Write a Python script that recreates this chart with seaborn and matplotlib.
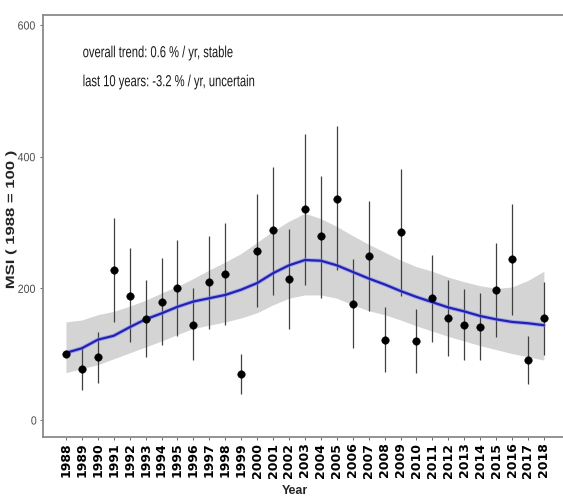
import matplotlib
matplotlib.use("Agg")
import matplotlib.pyplot as plt
from matplotlib.patheffects import AbstractPathEffect
from matplotlib.transforms import Affine2D
import seaborn as sns
import pandas as pd

# Yearly multi-species index with 95% confidence limits
years = list(range(1988, 2019))
msi = [100, 78, 95, 228, 189, 153, 180, 200, 145, 209, 222, 70, 257, 289, 214,
       320, 279, 336, 176, 249, 122, 285, 120, 185, 155, 145, 142, 198, 244, 91, 155]
msi_low = [100, 46, 56, 149, 119, 96, 114, 127, 91, 139, 144, 40, 171, 190, 139,
           205, 185, 228, 109, 165, 73, 188, 72, 119, 97, 91, 91, 126, 160, 55, 99]
msi_high = [100, 111, 134, 307, 261, 212, 246, 274, 200, 279, 300, 101, 343, 385, 290,
            435, 371, 446, 244, 333, 171, 381, 168, 251, 213, 199, 193, 269, 328, 128, 210]

# Smoothed trend and its confidence band
trend = [102, 109, 122, 128, 141, 153, 162, 172, 180, 185, 190, 198, 208, 223, 235,
         243, 242, 235, 225, 215, 206, 196, 187, 179, 171, 165, 158, 153, 149, 147, 144]
trend_low = [72, 78, 84, 93, 102, 111, 120, 130, 139, 144, 149, 155, 163, 175, 185,
             190, 190, 185, 175, 166, 160, 152, 143, 135, 127, 120, 113, 107, 101, 96, 91]
trend_high = [149, 152, 160, 165, 173, 182, 193, 203, 215, 228, 240, 253, 270, 287, 302,
              314, 306, 294, 280, 267, 255, 243, 233, 226, 217, 210, 204, 200, 202, 212, 226]

y_ticks = [0, 200, 400, 600]
notes = ["overall trend: 0.6 % / yr, stable",
         "last 10 years: -3.2 % / yr, uncertain"]

df = pd.DataFrame({"Year": years, "MSI": msi, "low": msi_low, "high": msi_high,
                   "trend": trend, "trend_low": trend_low, "trend_high": trend_high})


class GlyphScale(AbstractPathEffect):
    """Scale glyph outlines in their own frame (gives a condensed look)."""

    def __init__(self, sx=1.0, sy=1.0):
        super().__init__()
        self.sx, self.sy = sx, sy

    def draw_path(self, renderer, gc, tpath, affine, rgbFace=None):
        renderer.draw_path(gc, tpath, Affine2D().scale(self.sx, self.sy) + affine, rgbFace)


sns.set_style("white")
sans = ["Liberation Sans", "DejaVu Sans"]

fig = plt.figure(figsize=(5.63, 4.97), dpi=100)
ax = fig.add_axes([0.0764, 0.1207, 0.9236, 0.8491])

ax.fill_between(df["Year"], df["trend_low"], df["trend_high"],
                color="#d4d4d4", linewidth=0, zorder=1)
ax.vlines(df["Year"], df["low"], df["high"], color="#404040", linewidth=0.9, zorder=2)
sns.lineplot(data=df, x="Year", y="trend", ax=ax, color="#8080ff",
             linewidth=3.0, zorder=3, alpha=0.55)
sns.lineplot(data=df, x="Year", y="trend", ax=ax, color="#2222b0",
             linewidth=1.6, zorder=4)
sns.scatterplot(data=df, x="Year", y="MSI", ax=ax, color="black", s=30,
                edgecolor="black", linewidth=0.3, zorder=5)

ax.set_xlim(1986.56, 2019.2)
ax.set_ylim(-25.8, 615.2)
ax.set_xticks(years)
ax.set_xticklabels([str(y) for y in years], rotation=90, fontsize=9,
                   fontweight="bold", family="DejaVu Sans", color="black")
ax.set_yticks(y_ticks)
ax.set_yticklabels([str(v) for v in y_ticks], fontsize=8.5, family=sans,
                   color="#4d4d4d")
for lab in ax.get_yticklabels():
    lab.set_path_effects([GlyphScale(sx=0.9)])
ax.tick_params(axis="both", length=2.5, width=0.6, color="#555555", pad=1.5,
               bottom=True, left=True)

for side in ["top", "left", "bottom"]:
    ax.spines[side].set_color("#8a8a8a")
    ax.spines[side].set_linewidth(1.3)
ax.spines["right"].set_visible(False)

ax.set_xlabel("Year", fontsize=9, fontweight="bold", family=sans, va="center")
ax.xaxis.set_label_coords(0.485, -0.128)
ylab = ax.set_ylabel("MSI ( 1988 = 100 )", fontsize=12, fontweight="bold",
                     family=sans)
ylab.set_path_effects([GlyphScale(sy=0.72)])
ax.yaxis.set_label_coords(-0.05, 0.514)

for txt, ypos in zip(notes, [0.9107, 0.842]):
    t = ax.text(0.0763, ypos, txt, transform=ax.transAxes, fontsize=11.5,
                family=sans, color="#1a1a1a", va="center", ha="left")
    t.set_path_effects([GlyphScale(sx=0.7)])

fig.savefig("out.png", dpi=100)
